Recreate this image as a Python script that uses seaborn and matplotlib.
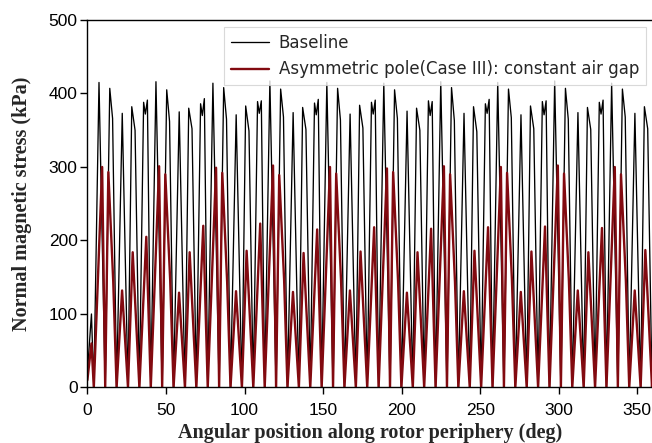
import numpy as np
import pandas as pd
import matplotlib
matplotlib.use("Agg")
import matplotlib.pyplot as plt
import seaborn as sns

# ---- data (angle in deg, stress in kPa) ----
dip_angle = [4.10, 11.35, 18.60, 25.85, 33.10, 40.35, 47.60, 54.85, 62.10, 69.35,
             76.60, 83.85, 91.10, 98.35, 105.60, 112.85, 120.10, 127.35, 134.60, 141.85,
             149.10, 156.35, 163.60, 170.85, 178.10, 185.35, 192.60, 199.85, 207.10, 214.35,
             221.60, 228.85, 236.10, 243.35, 250.60, 257.85, 265.10, 272.35, 279.60, 286.85,
             294.10, 301.35, 308.60, 315.85, 323.10, 330.35, 337.60, 344.85, 352.10, 359.35,
             366.60]

base_angle = [0.0, 2.6,
              7.40, 14.25, 16.05, 22.20, 28.25, 30.35, 35.80, 36.90, 38.20,
              43.65, 50.50, 52.30, 58.45, 64.50, 66.60, 72.05, 73.15, 74.45,
              79.90, 86.75, 88.55, 94.70, 100.75, 102.85, 108.30, 109.40, 110.70,
              116.15, 123.00, 124.80, 130.95, 137.00, 139.10, 144.55, 145.65, 146.95,
              152.40, 159.25, 161.05, 167.20, 173.25, 175.35, 180.80, 181.90, 183.20,
              188.65, 195.50, 197.30, 203.45, 209.50, 211.60, 217.05, 218.15, 219.45,
              224.90, 231.75, 233.55, 239.70, 245.75, 247.85, 253.30, 254.40, 255.70,
              261.15, 268.00, 269.80, 275.95, 282.00, 284.10, 289.55, 290.65, 291.95,
              297.40, 304.25, 306.05, 312.20, 318.25, 320.35, 325.80, 326.90, 328.20,
              333.65, 340.50, 342.30, 348.45, 354.50, 356.60, 362.05, 363.15, 364.45]
base_stress = [20, 100,
               415, 407, 366, 373, 382, 350, 388, 372, 391,
               416, 405, 362, 375, 380, 352, 386, 370, 393,
               414, 408, 365, 371, 383, 349, 389, 373, 390,
               417, 406, 368, 374, 381, 351, 387, 371, 392,
               415, 407, 364, 372, 384, 353, 388, 372, 391,
               414, 405, 366, 376, 380, 350, 390, 370, 389,
               416, 408, 363, 373, 382, 348, 386, 373, 392,
               415, 406, 367, 371, 383, 352, 389, 371, 390,
               417, 407, 365, 374, 381, 351, 388, 372, 391,
               414, 406, 368, 373, 382, 352, 388, 372, 391]

asym_angle = [0.0, 2.6,
              9.40, 13.35, 16.45, 22.10, 28.85, 37.50,
              45.65, 49.60, 52.70, 58.35, 65.10, 73.75,
              81.90, 85.85, 88.95, 94.60, 101.35, 110.00,
              118.15, 122.10, 125.20, 130.85, 137.60, 146.25,
              154.40, 158.35, 161.45, 167.10, 173.85, 182.50,
              190.65, 194.60, 197.70, 203.35, 210.10, 218.75,
              226.90, 230.85, 233.95, 239.60, 246.35, 255.00,
              263.15, 267.10, 270.20, 275.85, 282.60, 291.25,
              299.40, 303.35, 306.45, 312.10, 318.85, 327.50,
              335.65, 339.60, 342.70, 348.35, 355.10, 363.75]
asym_stress = [10, 60,
               300, 293, 145, 132, 184, 205,
               301, 290, 146, 129, 184, 220,
               299, 292, 144, 131, 186, 223,
               302, 289, 147, 130, 183, 215,
               300, 291, 145, 132, 185, 218,
               298, 293, 146, 129, 184, 216,
               301, 290, 144, 131, 186, 218,
               300, 292, 146, 130, 185, 219,
               302, 291, 145, 132, 184, 217,
               300, 290, 146, 132, 187, 218]

x_ticks = [0, 50, 100, 150, 200, 250, 300, 350]
y_ticks = [0, 100, 200, 300, 400, 500]

label_base = "Baseline"
label_asym = "Asymmetric pole(Case III): constant air gap"


def build(angles, stress):
    a = list(angles) + list(dip_angle)
    s = list(stress) + [0.0] * len(dip_angle)
    df = pd.DataFrame({"angle": a, "stress": s}).sort_values("angle")
    return df.reset_index(drop=True)


df_base = build(base_angle, base_stress)
df_asym = build(asym_angle, asym_stress)

sns.set_style("ticks")
plt.rcParams["font.family"] = ["DejaVu Sans"]

fig = plt.figure(figsize=(6.52, 4.43), dpi=100)
ax = fig.add_axes([0.134, 0.1253, 0.8676, 0.8296])

sns.lineplot(data=df_base, x="angle", y="stress", ax=ax, color="black",
             linewidth=0.95, estimator=None, sort=False, label=label_base)
sns.lineplot(data=df_asym, x="angle", y="stress", ax=ax, color="#820a10",
             linewidth=1.7, estimator=None, sort=False, label=label_asym)

ax.set_xlim(0, 360)
ax.set_ylim(0, 500)
ax.set_xticks(x_ticks)
ax.set_yticks(y_ticks)
for lab in ax.get_xticklabels() + ax.get_yticklabels():
    lab.set_family("Liberation Sans")
    lab.set_fontsize(12.5)
ax.tick_params(direction="out", length=5, width=1, colors="black")
ax.tick_params(axis="x", pad=6)
ax.tick_params(axis="y", pad=2)
ax.spines["right"].set_visible(False)
for sp in ax.spines.values():
    sp.set_color("black")
    sp.set_linewidth(1.0)

ax.set_xlabel("Angular position along rotor periphery (deg)", family="Liberation Serif",
              fontweight="bold", fontsize=14.5, labelpad=4)
ax.set_ylabel("Normal magnetic stress (kPa)", family="Liberation Serif",
              fontweight="bold", fontsize=14.5, labelpad=12)

leg = ax.legend(loc="upper right", fontsize=12, frameon=True, fancybox=False,
                borderaxespad=0.45, handlelength=2.3, handletextpad=0.55)
leg.get_frame().set_edgecolor("#d0d0d0")
leg.get_frame().set_linewidth(0.8)

fig.savefig("out.png", dpi=100)
